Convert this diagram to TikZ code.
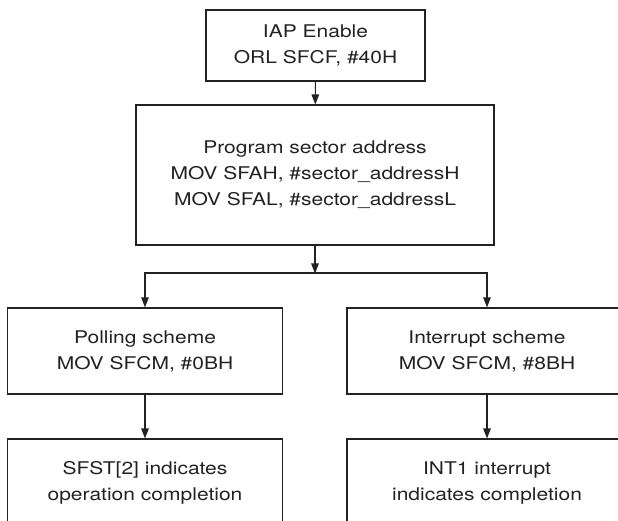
\documentclass[tikz,border=0pt]{standalone}
\usepackage{fontspec}
\setmainfont[FakeStretch=1.2]{TeX Gyre Heros}
\usetikzlibrary{arrows.meta}
\definecolor{ink}{HTML}{222222}
\tikzset{
  boxnode/.style={draw=ink, line width=1.1pt, align=center, inner sep=0pt,
    font=\fontsize{17.5}{26}\selectfont, text=ink},
  arr/.style={draw=ink, line width=1.1pt, -{Triangle[length=10pt,width=7.5pt]}}
}
\begin{document}
\begin{tikzpicture}[x=1pt,y=-1pt]
\useasboundingbox (0,0) rectangle (618,521);
\clip (0,0) rectangle (618,521);
\node[boxnode, minimum width=219pt, minimum height=71pt] (iap) at (315.5,45.5)
  {IAP Enable\\ORL SFCF, \#40H};
\node[boxnode, minimum width=358pt, minimum height=140pt] (prog) at (315,175)
  {Program sector address\\MOV SFAH, \#sector\_addressH\\MOV SFAL, \#sector\_addressL};
\node[boxnode, minimum width=275pt, minimum height=86pt] (poll) at (145,351)
  {Polling scheme\\MOV SFCM, \#0BH};
\node[boxnode, minimum width=280pt, minimum height=86pt] (intr) at (487,351)
  {Interrupt scheme\\MOV SFCM, \#8BH};
\node[boxnode, minimum width=275pt, minimum height=88pt] (sfst) at (145,483)
  {SFST[2] indicates\\operation completion};
\node[boxnode, minimum width=280pt, minimum height=88pt] (int1) at (487,483)
  {INT1 interrupt\\indicates completion};
\coordinate (split) at (315,273);
\draw[arr] (iap) -- (prog);
\draw[arr, shorten >=-0.5pt] (prog) -- (split);
\draw[arr] (split) -| (poll);
\draw[arr] (split) -| (intr);
\draw[arr] (poll) -- (sfst);
\draw[arr] (intr) -- (int1);
\end{tikzpicture}
\end{document}
